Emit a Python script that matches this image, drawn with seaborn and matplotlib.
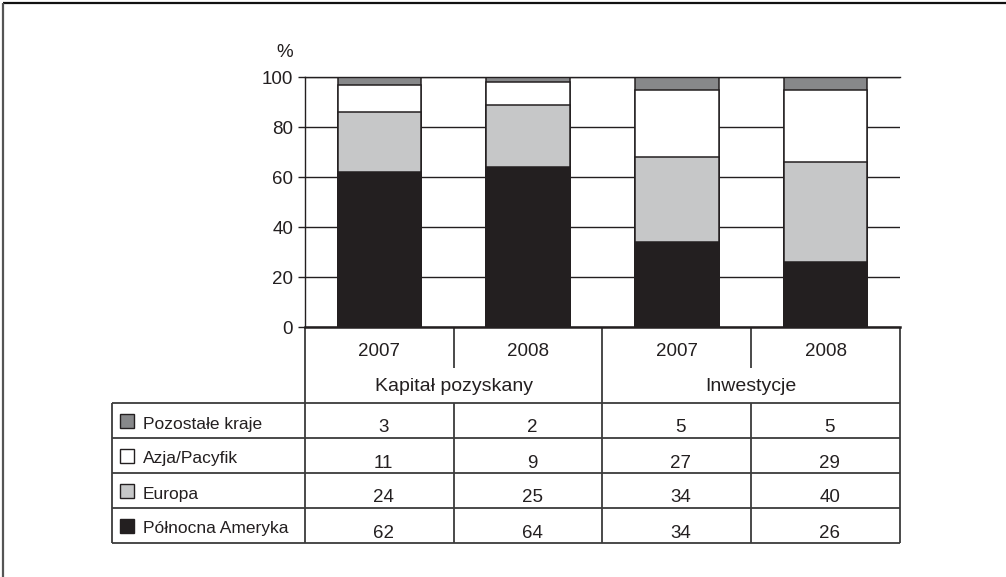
import numpy as np
import pandas as pd
import matplotlib
matplotlib.use("Agg")
import matplotlib.pyplot as plt
from matplotlib.patches import Rectangle
import seaborn as sns

# ---- data -------------------------------------------------------------
groups = ["Kapitał pozyskany", "Inwestycje"]
years = ["2007", "2008"]
series = ["Pozostałe kraje", "Azja/Pacyfik", "Europa", "Północna Ameryka"]
pozostale = [3, 2, 5, 5]
azja = [11, 9, 27, 29]
europa = [24, 25, 34, 40]
ameryka = [62, 64, 34, 26]
yticks = [0, 20, 40, 60, 80, 100]

colors = {
    "Pozostałe kraje": "#87888a",
    "Azja/Pacyfik": "#ffffff",
    "Europa": "#c6c7c8",
    "Północna Ameryka": "#231f20",
}
ink = "#231f20"
rule = "#3c3c3c"

cols = [f"{g} {y}" for g in groups for y in years]
values = pd.DataFrame(
    {"Pozostałe kraje": pozostale, "Azja/Pacyfik": azja,
     "Europa": europa, "Północna Ameryka": ameryka},
    index=cols,
)
stack_order = ["Północna Ameryka", "Europa", "Azja/Pacyfik", "Pozostałe kraje"]
cum = values[stack_order].cumsum(axis=1)

# ---- figure -----------------------------------------------------------
sns.set_theme(style="white")
plt.rcParams["font.family"] = ["Liberation Sans", "DejaVu Sans"]

W, H = 1006, 577
fig = plt.figure(figsize=(W / 100, H / 100), dpi=100)
fig.patch.set_facecolor("white")

# pixel-space layer for the frame and the data table
ov = fig.add_axes([0, 0, 1, 1])
ov.set_xlim(0, W)
ov.set_ylim(H, 0)
ov.axis("off")
ov.patch.set_visible(False)

PL, PR, PT, PB = 305, 900, 77, 327
ax = fig.add_axes([PL / W, (H - PB) / H, (PR - PL) / W, (PB - PT) / H])

# stacked bars: draw cumulative totals from the top layer down
for name in reversed(stack_order):
    sns.barplot(x=cols, y=cum[name].values, order=cols, color=colors[name],
                saturation=1, width=0.56, edgecolor=ink, linewidth=1.1,
                errorbar=None, ax=ax)

ax.set_xlim(-0.5, 3.5)
ax.set_ylim(0, 100)
ax.set_yticks(yticks)
ax.set_yticklabels([str(t) for t in yticks])
ax.set_xticks([])
ax.set_xlabel("")
ax.set_ylabel("")
ax.yaxis.grid(True, color=ink, linewidth=1.0)
ax.xaxis.grid(False)
ax.set_axisbelow(True)
ax.spines["right"].set_visible(False)
ax.spines["top"].set_color(ink)
ax.spines["top"].set_linewidth(1.0)
ax.spines["left"].set_color(ink)
ax.spines["left"].set_linewidth(1.0)
ax.spines["bottom"].set_color(ink)
ax.spines["bottom"].set_linewidth(1.8)
ax.tick_params(axis="y", left=True, length=5, width=1.0, color=ink,
               pad=3.5, labelsize=13.5, labelcolor=ink)

ov.text(285, 57, "%", ha="center", va="baseline", fontsize=13.5, color=ink)

# ---- outer frame (top and left) ----------------------------------------
ov.plot([3, W], [3, 3], color="#111111", lw=1.6, solid_capstyle="butt")
ov.plot([3, 3], [3, H], color="#555555", lw=1.6, solid_capstyle="butt")

# ---- table -------------------------------------------------------------
edges = PL + np.arange(5) * (PR - PL) / 4
centers = (edges[:-1] + edges[1:]) / 2
year_bottom, group_bottom = 368, 403
row_tops = [403, 438, 473, 508]
table_bottom = 543
LX = 112

kw = dict(color=rule, lw=1.3, solid_capstyle="butt")
for y in row_tops[1:] + [table_bottom]:
    ov.plot([LX, PR], [y, y], **kw)
ov.plot([LX, PR], [group_bottom, group_bottom], **kw)
ov.plot([LX, LX], [group_bottom, table_bottom], **kw)
for i, x in enumerate(edges):
    if i in (1, 3):
        ov.plot([x, x], [PB, year_bottom], **kw)
        ov.plot([x, x], [group_bottom, table_bottom], **kw)
    else:
        ov.plot([x, x], [PB, table_bottom], **kw)

for i, c in enumerate(centers):
    ov.text(c, 356, years[i % 2], ha="center", va="baseline",
            fontsize=13.5, color=ink)
for g, name in enumerate(groups):
    ov.text((edges[2 * g] + edges[2 * g + 2]) / 2, 391, name, ha="center",
            va="baseline", fontsize=14, color=ink)

for r, name in enumerate(series):
    top = row_tops[r]
    ov.add_patch(Rectangle((120, top + 11), 14, 14, facecolor=colors[name],
                           edgecolor=ink, lw=1.0))
    ov.text(143, top + 25.5, name, ha="left", va="baseline", fontsize=12.5,
            color=ink)
    for i, c in enumerate(centers):
        ov.text(c + 4, top + 29.5, str(values[name].iloc[i]), ha="center",
                va="baseline", fontsize=13.5, color=ink)

fig.savefig("out.png", dpi=100, facecolor="white")
